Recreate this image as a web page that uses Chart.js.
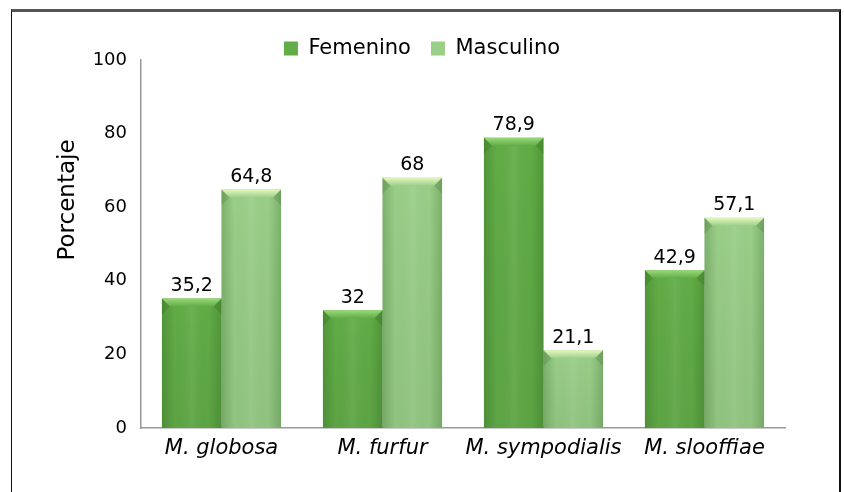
<!DOCTYPE html>
<html>
<head>
<meta charset="utf-8">
<script src="https://cdn.jsdelivr.net/npm/chart.js@4.4.1/dist/chart.umd.min.js"></script>
<style>
  html, body { margin: 0; padding: 0; background: #fff; }
  #wrap { position: relative; width: 844px; height: 492px; }
  #frame {
    position: absolute; left: 11px; top: 9px; width: 827px; height: 490px;
    border-top: 3px solid #555; border-left: 1.5px solid #111; border-right: 2px solid #111;
  }
  canvas { position: absolute; left: 0; top: 0; }
</style>
</head>
<body>
<div id="wrap">
  <div id="frame"></div>
  <canvas id="chart" width="844" height="492"></canvas>
</div>
<script>
// data
const categories = ['M. globosa', 'M. furfur', 'M. sympodialis', 'M. slooffiae'];
const femenino = [35.2, 32, 78.9, 42.9];
const masculino = [64.8, 68, 21.1, 57.1];
const yTicks = [0, 20, 40, 60, 80, 100];
const yTitle = 'Porcentaje';

const FONT = "'DejaVu Sans', 'Open Sans', sans-serif";

const fmt = v => String(v).replace('.', ',');

// 3D-ish shading + bevel top + value labels
const barLook = {
  id: 'barLook',
  beforeLayout(chart) {
    const lg = chart.legend;
    if (lg && !lg._wrapped) {
      const orig = lg.fit;
      lg.fit = function () { orig.call(this); this.height = 42; };
      lg._wrapped = true;
    }
  },
  afterDatasetsDraw(chart) {
    const ctx = chart.ctx;
    chart.data.datasets.forEach((ds, di) => {
      const meta = chart.getDatasetMeta(di);
      meta.data.forEach((el, i) => {
        const p = el.getProps(['x', 'y', 'base', 'width'], true);
        const l = p.x - p.width / 2, r = p.x + p.width / 2, t = p.y, b = p.base;
        ctx.save();
        // side shading
        let g = ctx.createLinearGradient(l, 0, r, 0);
        g.addColorStop(0, 'rgba(20,70,10,0.22)');
        g.addColorStop(0.22, 'rgba(20,70,10,0)');
        g.addColorStop(0.5, 'rgba(255,255,255,0.07)');
        g.addColorStop(0.78, 'rgba(20,70,10,0)');
        g.addColorStop(1, 'rgba(20,70,10,0.22)');
        ctx.fillStyle = g;
        ctx.fillRect(l, t, r - l, b - t);
        // bottom darkening
        g = ctx.createLinearGradient(0, t, 0, b);
        g.addColorStop(0, 'rgba(0,0,0,0)');
        g.addColorStop(1, 'rgba(40,60,40,0.08)');
        ctx.fillStyle = g;
        ctx.fillRect(l, t, r - l, b - t);
        // bevel on top
        const bv = 8;
        g = ctx.createLinearGradient(0, t, 0, t + bv);
        g.addColorStop(0, ds.bevelColor);
        g.addColorStop(1, ds.backgroundColor);
        ctx.fillStyle = g;
        ctx.beginPath();
        ctx.moveTo(l, t); ctx.lineTo(r, t); ctx.lineTo(r - bv, t + bv); ctx.lineTo(l + bv, t + bv);
        ctx.closePath(); ctx.fill();
        ctx.fillStyle = 'rgba(20,60,10,0.14)';
        ctx.beginPath();
        ctx.moveTo(l, t); ctx.lineTo(l + bv, t + bv); ctx.lineTo(l, t + bv * 2);
        ctx.closePath(); ctx.fill();
        ctx.beginPath();
        ctx.moveTo(r, t); ctx.lineTo(r - bv, t + bv); ctx.lineTo(r, t + bv * 2);
        ctx.closePath(); ctx.fill();
        // value label
        ctx.fillStyle = '#000';
        ctx.font = '19px ' + FONT;
        ctx.textAlign = 'center';
        ctx.textBaseline = 'bottom';
        ctx.fillText(fmt(ds.data[i]), p.x, t - 3);
        ctx.restore();
      });
    });
  },
  afterDraw(chart) {
    // y axis title, sits a bit above the middle like in the source figure
    const ctx = chart.ctx;
    ctx.save();
    ctx.translate(68, 200);
    ctx.rotate(-Math.PI / 2);
    ctx.fillStyle = '#000';
    ctx.font = '23px ' + FONT;
    ctx.textAlign = 'center';
    ctx.textBaseline = 'middle';
    ctx.fillText(yTitle, 0, 0);
    ctx.restore();
  }
};

new Chart(document.getElementById('chart'), {
  type: 'bar',
  data: {
    labels: categories,
    datasets: [
      { label: 'Femenino', data: femenino, backgroundColor: '#62ad47', bevelColor: '#9bd97a' },
      { label: 'Masculino', data: masculino, backgroundColor: '#9acf88', bevelColor: '#e4f7c0' }
    ]
  },
  options: {
    responsive: false,
    animation: false,
    events: [],
    layout: { padding: { top: 18, right: 59, left: 59, bottom: 0 } },
    datasets: { bar: { categoryPercentage: 0.74, barPercentage: 1 } },
    scales: {
      x: {
        grid: { display: false, drawTicks: false },
        border: { color: '#999', width: 1.5 },
        ticks: { color: '#000', padding: 8, maxRotation: 0, minRotation: 0, autoSkip: false,
                 font: { family: FONT, size: 21, style: 'italic' } },
        afterFit(s) { s.height = 64; }
      },
      y: {
        min: 0, max: 100,
        afterBuildTicks(s) { s.ticks = yTicks.map(v => ({ value: v })); },
        grid: { display: false, drawTicks: false },
        border: { color: '#999', width: 1.5 },
        ticks: { color: '#000', padding: 14, font: { family: FONT, size: 18 } },
        afterFit(s) { s.width = 82; }
      }
    },
    plugins: {
      legend: {
        labels: {
          color: '#000', boxWidth: 14, boxHeight: 14, padding: 20,
          font: { family: FONT, size: 21 }
        }
      },
      tooltip: { enabled: false }
    }
  },
  plugins: [barLook]
});
</script>
</body>
</html>
